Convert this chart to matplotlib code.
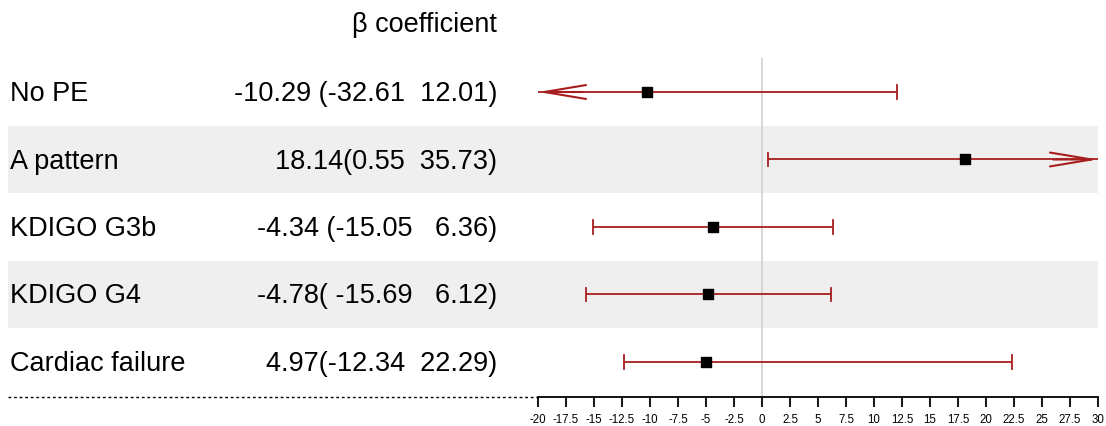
import matplotlib.pyplot as plt
import matplotlib.transforms as mtransforms
import numpy as np

plt.rcParams['font.family'] = ['Liberation Sans', 'DejaVu Sans']

labels = ['No PE', 'A pattern', 'KDIGO G3b', 'KDIGO G4', 'Cardiac failure']
ci_text = ['-10.29 (-32.61  12.01)', '18.14(0.55  35.73)', '-4.34 (-15.05   6.36)',
           '-4.78( -15.69   6.12)', '4.97(-12.34  22.29)']
# plotted positions as drawn in the figure
est = [-10.29, 18.14, -4.34, -4.78, -4.97]
lower = [-32.61, 0.55, -15.05, -15.69, -12.34]
upper = [12.01, 35.73, 6.36, 6.12, 22.29]
ticks = np.arange(-20, 30.1, 2.5)
xmin, xmax = -20, 30

W, H = 1106, 426
fig = plt.figure(figsize=(W / 100, H / 100), dpi=100)
ax = fig.add_axes([538 / W, 29 / H, 560 / W, (397 - 58) / H])
ax.set_xlim(xmin, xmax)
ax.set_ylim(4.52, -0.504)

red = '#a81e1e'
fs = 19.5
blend = mtransforms.blended_transform_factory(fig.transFigure, ax.transData)

for i in range(len(labels)):
    if i % 2 == 1:
        ax.add_patch(plt.Rectangle((8 / W, i - 0.5), 1090 / W, 1.0, transform=blend,
                                   facecolor='#efefef', edgecolor='none', clip_on=False, zorder=0))
    ax.text(10 / W, i + 0.03, labels[i], transform=blend, fontsize=fs, va='center', ha='left')
    ax.text(497 / W, i + 0.03, ci_text[i], transform=blend, fontsize=fs, va='center', ha='right')

ax.axvline(0, color='#d4d4d4', lw=1.3, zorder=1)

for i in range(len(labels)):
    lo = max(lower[i], xmin)
    hi = min(upper[i], xmax)
    ax.plot([lo, hi], [i, i], color=red, lw=1.3, zorder=2, solid_capstyle='butt')
    if lower[i] >= xmin:
        ax.plot([lo, lo], [i - 0.1, i + 0.1], color=red, lw=1.3, zorder=2)
    else:
        ax.annotate('', xy=(lo, i), xytext=(lo + 4, i),
                    arrowprops=dict(arrowstyle='->,head_length=3.0,head_width=0.5',
                                    color=red, lw=1.5, shrinkA=0, shrinkB=0))
    if upper[i] <= xmax:
        ax.plot([hi, hi], [i - 0.1, i + 0.1], color=red, lw=1.3, zorder=2)
    else:
        ax.annotate('', xy=(hi, i), xytext=(hi - 4, i),
                    arrowprops=dict(arrowstyle='->,head_length=3.0,head_width=0.5',
                                    color=red, lw=1.5, shrinkA=0, shrinkB=0))

ax.scatter(est, range(len(est)), marker='s', s=50, color='black', zorder=3)

ax.text(497 / W, 1 - 25 / H, 'β coefficient', transform=fig.transFigure, fontsize=fs,
        ha='right', va='center')

# dotted separator on the left side
fig.add_artist(plt.Line2D([8 / W, 538 / W], [29 / H, 29 / H], transform=fig.transFigure,
                          color='black', lw=1, linestyle=(0, (2, 2))))

for s in ['top', 'right', 'left']:
    ax.spines[s].set_visible(False)
ax.spines['bottom'].set_linewidth(1.3)
ax.set_yticks([])
ax.set_xticks(ticks)
ax.set_xticklabels([f'{t:g}' for t in ticks], fontsize=8.3)
ax.tick_params(axis='x', length=7, width=1.3, pad=5)

fig.savefig('out.png', dpi=100)
